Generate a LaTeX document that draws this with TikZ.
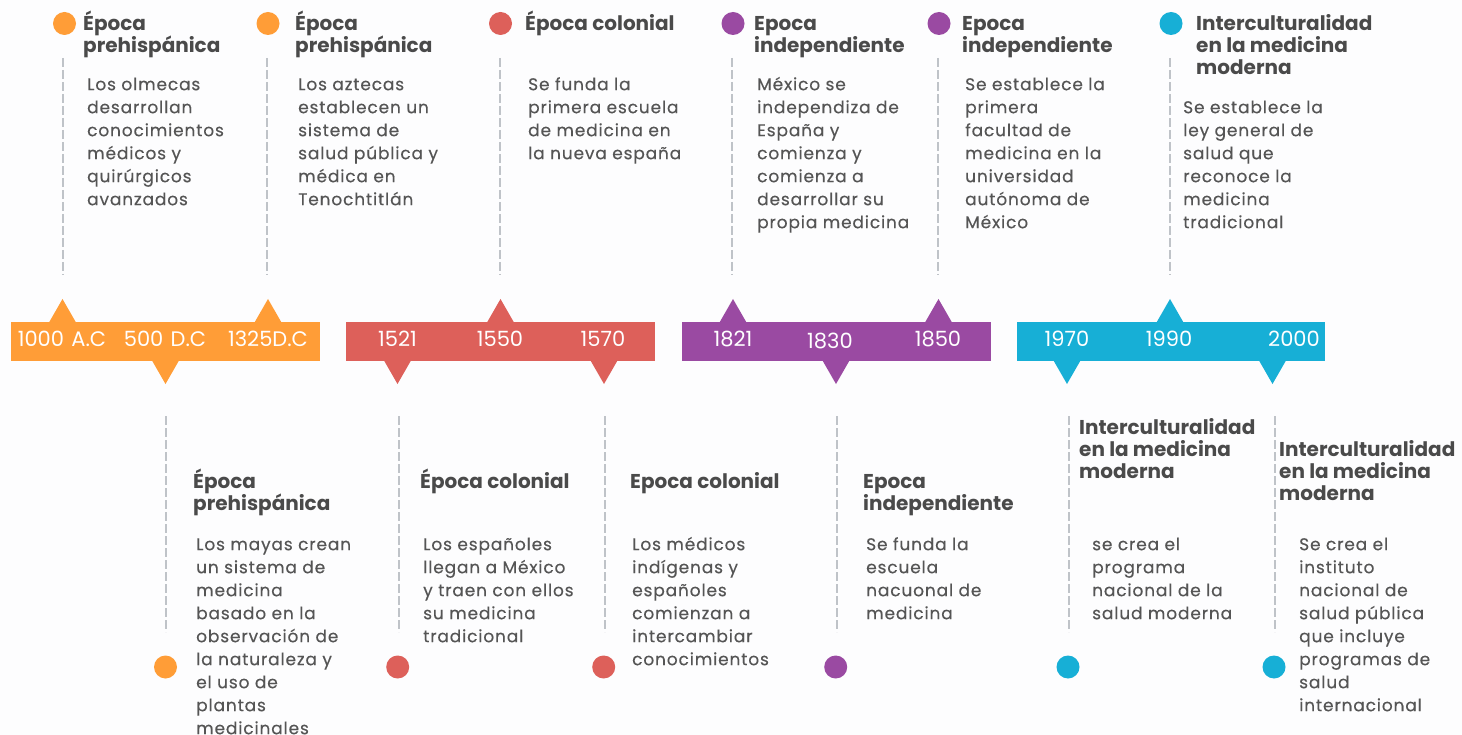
\documentclass[tikz,border=0pt]{standalone}
\usepackage{fontspec}
\setmainfont{Poppins}
\newfontfamily\bodyfont[LetterSpace=5,FakeBold=0.3]{Poppins}
\newfontfamily\yearfont[WordSpace=1.3]{Poppins}
\definecolor{cOr}{HTML}{FF9D37}
\definecolor{cRe}{HTML}{DD605A}
\definecolor{cPu}{HTML}{9A4AA2}
\definecolor{cBl}{HTML}{17AFD6}
\definecolor{txt}{HTML}{555555}
\definecolor{hdr}{HTML}{4A4A4A}
\definecolor{dashc}{HTML}{BFC3C8}
\definecolor{bgc}{HTML}{FDFDFE}
\newcommand\hstrut{\rule{0pt}{20pt}}
\newcommand\bstrut{\rule{0pt}{16pt}}
\tikzset{
  body/.style={anchor=north west, inner sep=0, align=left, text=txt,
    font=\bodyfont\fontsize{17}{23}\selectfont},
  head/.style={anchor=north west, inner sep=0, align=left, text=hdr,
    font=\bfseries\fontsize{20}{22}\selectfont},
  year/.style={anchor=base, inner sep=0, text=white,
    font=\yearfont\fontsize{21}{21}\selectfont},
  dot/.style={circle, inner sep=0, minimum size=23pt, fill=#1},
  dashline/.style={draw=dashc, line width=2pt, dash pattern=on 9pt off 3pt},
}
\begin{document}
\begin{tikzpicture}[x=1pt,y=-1pt]
\fill[bgc] (0,0) rectangle (1462,735);
\useasboundingbox (0,0) rectangle (1462,735);

% bars
\fill[cOr] (11,322) rectangle (320,361);
\fill[cRe] (346,322) rectangle (655,361);
\fill[cPu] (682,322) rectangle (991,361);
\fill[cBl] (1017,322) rectangle (1325,361);
% up triangles
\foreach \x/\c in {62.5/cOr,268/cOr,500.5/cRe,733/cPu,938.5/cPu,1170/cBl}
  \fill[\c] (\x-13.5,322.5) -- (\x,299) -- (\x+13.5,322.5) -- cycle;
% down triangles
\foreach \x/\c in {165.5/cOr,397.5/cRe,604/cRe,836/cPu,1067/cBl,1272.5/cBl}
  \fill[\c] (\x-13.5,360.5) -- (\x,384) -- (\x+13.5,360.5) -- cycle;

% years
\node[year] (y1) at (62,346.5) {1000 A.C};
\node[year] (y2) at (165,346.5) {500 D.C};
\node[year] (y3) at (268,346.5) {1325D.C};
\node[year] (y4) at (397.5,346.5) {1521};
\node[year] (y5) at (500,346.5) {1550};
\node[year] (y6) at (603,346.5) {1570};
\node[year] (y7) at (733,346.5) {1821};
\node[year] (y8) at (830,348.5) {1830};
\node[year] (y9) at (938,346.5) {1850};
\node[year] (y10) at (1067,346.5) {1970};
\node[year] (y11) at (1169,346.5) {1990};
\node[year] (y12) at (1294,346.5) {2000};

% top dashed lines
\foreach \i/\x in {1/63,2/267,3/500,4/732,5/938,6/1170}{
  \coordinate (ta\i) at (\x,58);
  \coordinate (tb\i) at (\x,275);
  \draw[dashline] (ta\i) -- (tb\i);
}
% bottom dashed lines
\foreach \i/\x in {1/166,2/398.5,3/604.5,4/837,5/1069,6/1275}{
  \coordinate (ba\i) at (\x,416);
  \coordinate (bb\i) at (\x,632);
  \draw[dashline] (ba\i) -- (bb\i);
}

% top dots
\node[dot=cOr] (td1) at (64.5,23.5) {};
\node[dot=cOr] (td2) at (268,23.5) {};
\node[dot=cRe] (td3) at (500.5,23.5) {};
\node[dot=cPu] (td4) at (733,23.5) {};
\node[dot=cPu] (td5) at (939,23.5) {};
\node[dot=cBl] (td6) at (1171,23.5) {};
% bottom dots
\node[dot=cOr] (bd1) at (165.5,667) {};
\node[dot=cRe] (bd2) at (397.7,667) {};
\node[dot=cRe] (bd3) at (603.7,667) {};
\node[dot=cPu] (bd4) at (835.7,667) {};
\node[dot=cBl] (bd5) at (1068,667) {};
\node[dot=cBl] (bd6) at (1274,667) {};

% top headings
\node[head] (th1) at (83,10) {\hstrut Época\\prehispánica};
\node[head] (th2) at (295,10) {\hstrut Época\\prehispánica};
\node[head] (th3) at (525,10) {\hstrut Época colonial};
\node[head] (th4) at (754,10) {\hstrut Epoca\\independiente};
\node[head] (th5) at (962,10) {\hstrut Epoca\\independiente};
\node[head] (th6) at (1196,10) {\hstrut Interculturalidad\\en la medicina\\moderna};
% top bodies
\node[body] (tt1) at (87,74) {\bstrut Los olmecas\\desarrollan\\conocimientos\\médicos y\\quirúrgicos\\avanzados};
\node[body] (tt2) at (298,74) {\bstrut Los aztecas\\establecen un\\sistema de\\salud pública y\\médica en\\Tenochtitlán};
\node[body] (tt3) at (528,74) {\bstrut Se funda la\\primera escuela\\de medicina en\\la nueva españa};
\node[body] (tt4) at (757,74) {\bstrut México se\\independiza de\\España y\\comienza y\\comienza a\\desarrollar su\\propia medicina};
\node[body] (tt5) at (965,74) {\bstrut Se establece la\\primera\\facultad de\\medicina en la\\universidad\\autónoma de\\México};
\node[body] (tt6) at (1183,97) {\bstrut Se establece la\\ley general de\\salud que\\reconoce la\\medicina\\tradicional};

% bottom headings
\node[head] (bh1) at (193,468) {\hstrut Época\\prehispánica};
\node[head] (bh2) at (420,468) {\hstrut Época colonial};
\node[head] (bh3) at (630,468) {\hstrut Epoca colonial};
\node[head] (bh4) at (863,468) {\hstrut Epoca\\independiente};
\node[head] (bh5) at (1079,414) {\hstrut Interculturalidad\\en la medicina\\moderna};
\node[head] (bh6) at (1279,436) {\hstrut Interculturalidad\\en la medicina\\moderna};
% bottom bodies
\node[body] (bt1) at (196,534) {\bstrut Los mayas crean\\un sistema de\\medicina\\basado en la\\observación de\\la naturaleza y\\el uso de\\plantas\\medicinales};
\node[body] (bt2) at (423,534) {\bstrut Los españoles\\llegan a México\\y traen con ellos\\su medicina\\tradicional};
\node[body] (bt3) at (632,534) {\bstrut Los médicos\\indígenas y\\españoles\\comienzan a\\intercambiar\\conocimientos};
\node[body] (bt4) at (866,534) {\bstrut Se funda la\\escuela\\nacuonal de\\medicina};
\node[body] (bt5) at (1092,534) {\bstrut se crea el\\programa\\nacional de la\\salud moderna};
\node[body] (bt6) at (1299,534) {\bstrut Se crea el\\instituto\\nacional de\\salud pública\\que incluye\\programas de\\salud\\internacional};
\end{tikzpicture}
\end{document}
